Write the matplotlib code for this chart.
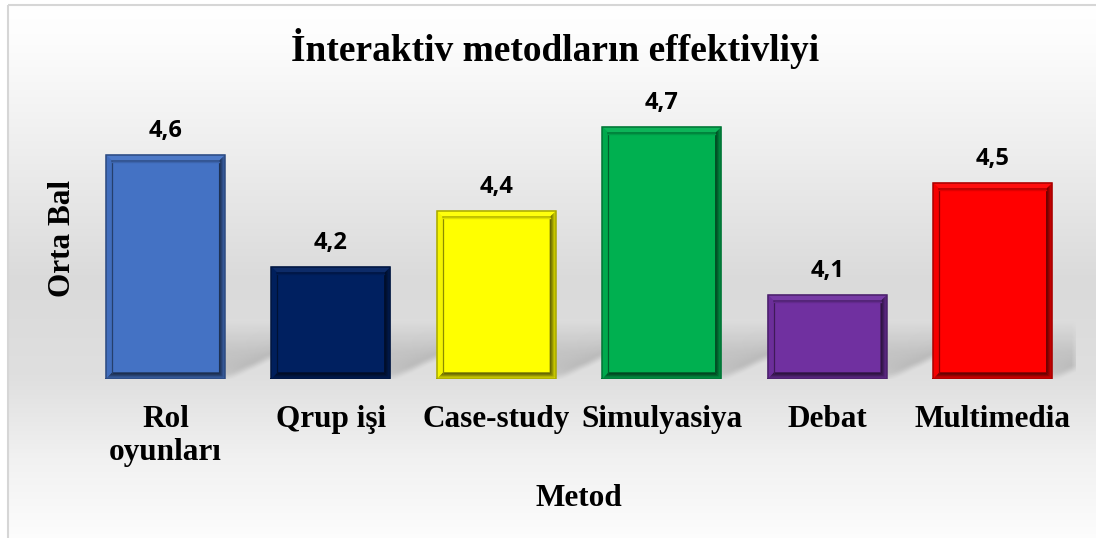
import numpy as np
import matplotlib
matplotlib.use("Agg")
import matplotlib.pyplot as plt
from matplotlib.patches import Polygon
from matplotlib.colors import to_rgb

# ---------------- data ----------------
methods = ["Rol\noyunları", "Qrup işi", "Case-study", "Simulyasiya", "Debat", "Multimedia"]
scores = [4.6, 4.2, 4.4, 4.7, 4.1, 4.5]
score_labels = ["4,6", "4,2", "4,4", "4,7", "4,1", "4,5"]
bar_colors = ["#4472C4", "#002060", "#FFFF00", "#00B050", "#7030A0", "#FF0000"]
title_text = "İnteraktiv metodların effektivliyi"
xlabel_text = "Metod"
ylabel_text = "Orta Bal"
y_min, y_max = 3.8, 4.8

# ---------------- figure ----------------
W, H = 1096, 538
fig = plt.figure(figsize=(W / 100, H / 100), dpi=100)
fig.patch.set_facecolor("white")

serif = "Liberation Serif"
sans = "Open Sans"

# background (chart area gradient + frame)
bg = fig.add_axes([0, 0, 1, 1], zorder=-10)
bg.axis("off")
ys = np.linspace(0, 1, 400)
stops_y = [0.0, 0.07, 0.3, 0.52, 0.7, 0.85, 1.0]
stops_v = [1.0, 0.99, 0.925, 0.855, 0.875, 0.945, 0.99]
g = np.interp(ys, stops_y, stops_v)
img = np.repeat(g[:, None], 2, axis=1)
bg.imshow(np.dstack([img] * 3), extent=(7, W, H, 4), aspect="auto",
          interpolation="bilinear")
bg.plot([7.5, 7.5], [H, 4.5], color="#d6d6d6", lw=1.5, solid_capstyle="butt")
bg.plot([7.5, W], [4.5, 4.5], color="#d6d6d6", lw=1.5, solid_capstyle="butt")
bg.set_xlim(0, W)
bg.set_ylim(H, 0)

# main axes
ax_left, ax_right, ax_bottom, ax_top = 82.7, 1075.4, 378.7, 98.7
ax = fig.add_axes([ax_left / W, 1 - ax_bottom / H, (ax_right - ax_left) / W,
                   (ax_bottom - ax_top) / H])
ax.patch.set_alpha(0)
for s in ax.spines.values():
    s.set_visible(False)
ax.set_xlim(-0.5, len(scores) - 0.5)
ax.set_ylim(y_min, y_max)
ax.set_yticks([])


def shade(c, f):
    r = np.array(to_rgb(c))
    return tuple(np.clip(r * f, 0, 1))


def tint(c, f):
    r = np.array(to_rgb(c))
    return tuple(np.clip(r + (1 - r) * f, 0, 1))


x = np.arange(len(scores))
heights = np.array(scores) - y_min
bars = ax.bar(x, heights, bottom=y_min, width=0.72, color=bar_colors,
              edgecolor="none", linewidth=0, zorder=3)

# pixel scales
p0 = ax.transData.transform((0, y_min))
p1 = ax.transData.transform((1, y_min + 1))
sx = p1[0] - p0[0]
sy = p1[1] - p0[1]

# floor shadows
ncols = int(round(sx * len(scores)))
D = 60.0
k = 2.1
rows = int(D) + 12
xs_px = np.arange(ncols) + 0.5
sh = np.zeros((rows, ncols))
for b in bars:
    Lp = (b.get_x() + 0.5) * sx
    Rp = Lp + b.get_width() * sx
    for i in range(rows):
        h = i + 0.5
        if h > D:
            continue
        t = h / D
        inten = (t ** 0.6) * (1 - t) ** 1.4 / 0.45
        # darker near the shadow's right boundary
        xs_rel = (Rp + k * h - xs_px)
        m = (xs_px >= Lp + k * h) & (xs_px <= Rp + k * h)
        edge = 0.65 + 0.35 * np.exp(-np.clip(xs_rel, 0, None) / 25.0)
        sh[i, m] = np.maximum(sh[i, m], inten * edge[m])


def blur(a, r, axis):
    kern = np.ones(2 * r + 1) / (2 * r + 1)
    return np.apply_along_axis(lambda v: np.convolve(v, kern, mode="same"), axis, a)


sh = blur(blur(sh, 4, 1), 3, 0)
sh = np.clip(sh, 0, 1)
rgba = np.zeros((rows, ncols, 4))
rgba[..., 3] = 0.27 * sh
ax.imshow(rgba, extent=(-0.5, len(scores) - 0.5, y_min, y_min + rows / sy),
          origin="lower", aspect="auto", zorder=1, interpolation="bilinear")
ax.set_xlim(-0.5, len(scores) - 0.5)
ax.set_ylim(y_min, y_max)

# bevel effect
d = 6.0
dx, dy = d / sx, d / sy
ox, oy = 1.6 / sx, 1.6 / sy
for b, c in zip(bars, bar_colors):
    L = b.get_x()
    R = L + b.get_width()
    B = b.get_y()
    T = B + b.get_height()
    # right band: thin light outer strip, dark inner gradient
    ax.add_patch(Polygon([(R, T), (R, B), (R - dx, B + dy), (R - dx, T - dy)],
                         closed=True, fc=shade(c, 0.8), ec="none", zorder=4))
    for j, f in enumerate([0.72, 0.6, 0.5, 0.42]):
        a0 = (1.6 + j * 1.1)
        ax.add_patch(Polygon([(R - a0 / sx, T - a0 / sy), (R - a0 / sx, B + a0 / sy),
                              (R - dx, B + dy), (R - dx, T - dy)],
                             closed=True, fc=shade(c, f), ec="none", zorder=4))
    # bottom band
    ax.add_patch(Polygon([(L, B), (R, B), (R - dx, B + dy), (L + dx, B + dy)],
                         closed=True, fc=shade(c, 0.78), ec="none", zorder=4))
    for j, f in enumerate([0.7, 0.58, 0.48, 0.4]):
        a0 = (1.6 + j * 1.1)
        ax.add_patch(Polygon([(L + a0 / sx, B + a0 / sy), (R - a0 / sx, B + a0 / sy),
                              (R - dx, B + dy), (L + dx, B + dy)],
                             closed=True, fc=shade(c, f), ec="none", zorder=4))
    # top band
    ax.add_patch(Polygon([(L, T), (R, T), (R - dx, T - dy), (L + dx, T - dy)],
                         closed=True, fc=tint(c, 0.05), ec="none", zorder=4))
    # left band
    ax.add_patch(Polygon([(L, T), (L, B), (L + dx, B + dy), (L + dx, T - dy)],
                         closed=True, fc=shade(c, 0.96), ec="none", zorder=4))
    # inner edges (left & top dark line, top shadow)
    ax.plot([L + dx, L + dx], [B + dy, T - dy], color=shade(c, 0.55), lw=0.9, zorder=5)
    ax.plot([L + dx, R - dx], [T - dy, T - dy], color=shade(c, 0.7), lw=1.2, zorder=5)
    ax.plot([L + dx, R - dx], [T - dy - 1.2 / sy, T - dy - 1.2 / sy],
            color=shade(c, 0.88), lw=1.0, zorder=5)
    # outer edge
    ax.plot([L, L, R, R, L], [B, T, T, B, B], color=shade(c, 0.66), lw=1.1,
            zorder=6, solid_joinstyle="miter")

# value labels
for xi, v, lab in zip(x, scores, score_labels):
    ax.annotate(lab, (xi, v), xytext=(0, 12.6), textcoords="offset points",
                ha="center", va="baseline", fontsize=17, fontweight="bold",
                family=sans, color="black", zorder=7)

# tick labels
ax.set_xticks(x)
ax.set_xticklabels(methods, fontsize=22.5, fontweight="bold", family=serif,
                   linespacing=1.2)
ax.tick_params(axis="x", length=0, pad=18.8)

# axis labels
ax.set_xlabel(xlabel_text, fontsize=22.5, fontweight="bold", family=serif)
ax.xaxis.set_label_coords(0.5, -(484.5 - ax_bottom) / (ax_bottom - ax_top))
fig.text(70 / W, 1 - 239 / H, ylabel_text, rotation=90, rotation_mode="anchor",
         ha="center", va="baseline", fontsize=22.5, fontweight="bold", family=serif)

# title
fig.text(555.5 / W, 1 - 61 / H, title_text, ha="center", va="baseline",
         fontsize=26.9, fontweight="bold", family=serif)

fig.savefig("out.png", dpi=100)
